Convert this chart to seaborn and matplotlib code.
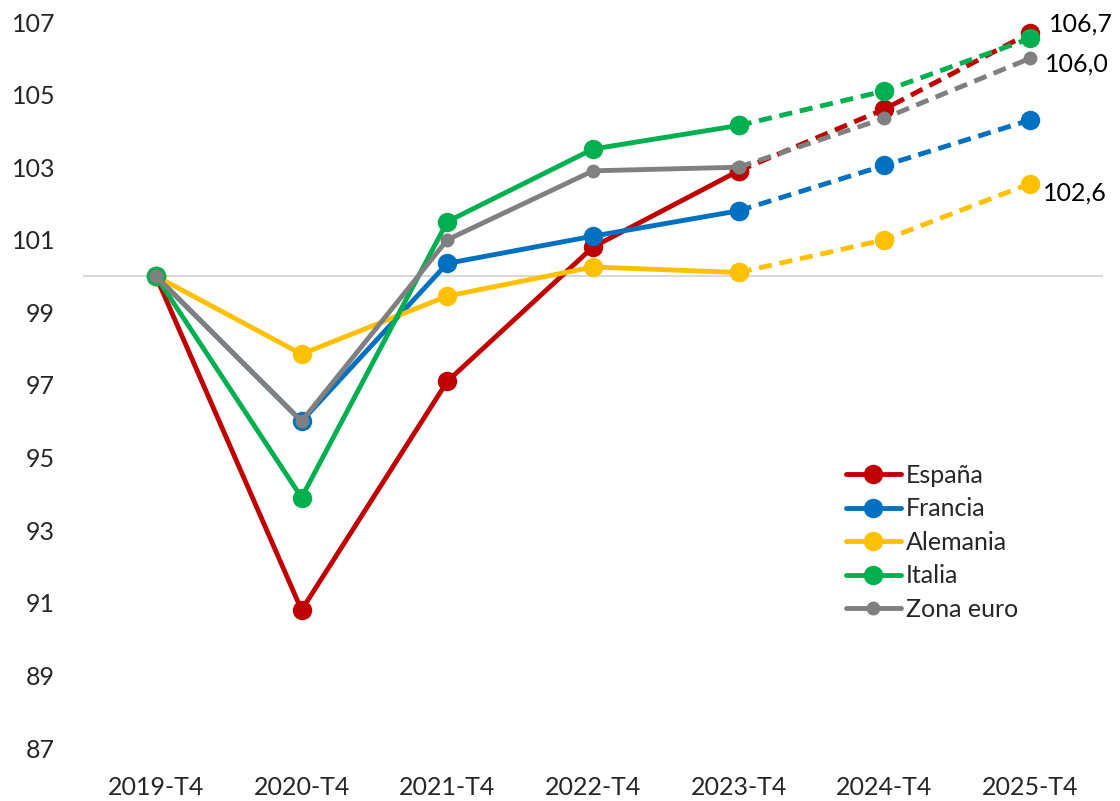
import numpy as np
import pandas as pd
import matplotlib
matplotlib.use("Agg")
import matplotlib.pyplot as plt
import seaborn as sns
from matplotlib.lines import Line2D

periods = ["2019-T4", "2020-T4", "2021-T4", "2022-T4", "2023-T4", "2024-T4", "2025-T4"]
espana = [100.0, 90.8, 97.1, 100.8, 102.9, 104.6, 106.7]
francia = [100.0, 96.0, 100.35, 101.1, 101.8, 103.05, 104.3]
alemania = [100.0, 97.85, 99.45, 100.25, 100.1, 101.0, 102.55]
italia = [100.0, 93.9, 101.5, 103.5, 104.15, 105.1, 106.55]
zona_euro = [100.0, 96.0, 101.0, 102.9, 103.0, 104.35, 106.0]

names = ["España", "Francia", "Alemania", "Italia", "Zona euro"]
series = [espana, francia, alemania, italia, zona_euro]
colors = ["#C00000", "#0070C0", "#FFC000", "#00B050", "#808080"]
msizes = [14, 14, 14, 14, 10]
labels_end = {"España": "106,7", "Zona euro": "106,0", "Alemania": "102,6"}

sns.set_theme(style="white")
plt.rcParams["font.family"] = ["Lato", "DejaVu Sans"]

fig = plt.figure(figsize=(11.2, 8.01), dpi=100)
ax = fig.add_axes([83/1120, 1 - 748/801, (1103-83)/1120, (748-22)/801])

x = np.arange(len(periods))
ax.axhline(100, color="#D9D9D9", lw=1.5, zorder=1)

LW = 3.5
for name, vals, c, ms in zip(names, series, colors, msizes):
    df = pd.DataFrame({"x": x, "y": vals})
    solid = df.iloc[:5]
    dashed = df.iloc[4:]
    sns.lineplot(data=solid, x="x", y="y", ax=ax, color=c, lw=LW, marker="o",
                 markersize=ms, markeredgewidth=0, zorder=3)
    sns.lineplot(data=dashed, x="x", y="y", ax=ax, color=c, lw=LW, marker="o",
                 markersize=ms, markeredgewidth=0, zorder=3, linestyle=(0, (2.7, 1.6)))

ax.text(x[-1] + 0.13, espana[-1] + 0.25, labels_end["España"], fontsize=18, va="center", ha="left", color="black")
ax.text(x[-1] + 0.1, zona_euro[-1] - 0.15, labels_end["Zona euro"], fontsize=18, va="center", ha="left", color="black")
ax.text(x[-1] + 0.09, alemania[-1] - 0.25, labels_end["Alemania"], fontsize=18, va="center", ha="left", color="black")

ax.set_xlim(-0.5, 6.5)
ax.set_ylim(87, 107)
ax.set_yticks(np.arange(87, 108, 2))
ax.set_xticks(x)
ax.set_xticklabels(periods)
ax.set_xlabel("")
ax.set_ylabel("")
ax.tick_params(axis="y", labelsize=18, pad=20, length=0)
ax.tick_params(axis="x", labelsize=18, pad=20, length=0)
for s in ax.spines.values():
    s.set_visible(False)
ax.grid(False)

handles = [Line2D([0], [0], color=c, lw=LW, marker="o", markersize=ms, markeredgewidth=0)
           for c, ms in zip(colors, msizes)]
ax.legend(handles, names, loc="upper left", bbox_to_anchor=(0.738, 0.405), frameon=False,
          fontsize=18, handlelength=2.2, handletextpad=0.2, labelspacing=0.42, borderaxespad=0)

fig.savefig("out.png", dpi=100)
